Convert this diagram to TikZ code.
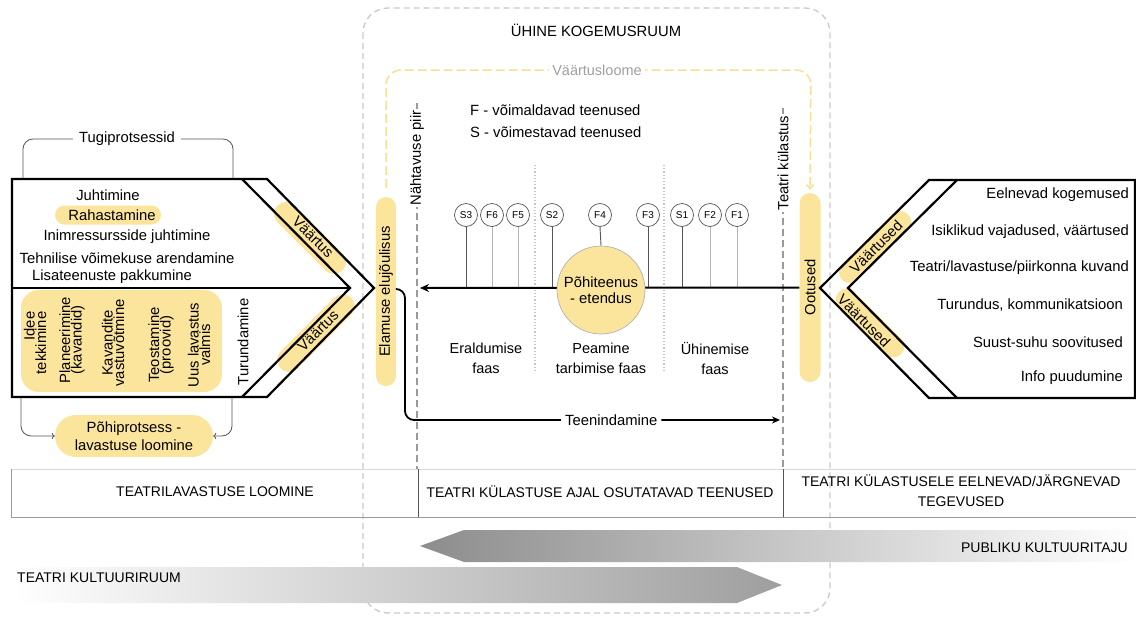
\documentclass[tikz,border=0pt]{standalone}
\usepackage{fontspec}
\setmainfont{Liberation Sans}
\usetikzlibrary{arrows.meta,calc}
\definecolor{pillfill}{HTML}{FBE49C}
\definecolor{valuedash}{HTML}{F8E092}
\definecolor{roomframe}{HTML}{C9C9C9}
\definecolor{inkgray}{HTML}{555555}
\definecolor{lightstem}{HTML}{B4B4B4}
\definecolor{borderline}{HTML}{9A9A9A}
\begin{document}
\begin{tikzpicture}[x=1pt,y=-1pt,
  every node/.style={inner sep=0pt, font=\fontsize{14.8}{17}\selectfont},
  outline/.style={line width=2.2pt, line join=miter},
  bracket/.style={inkgray, line width=0.8pt},
  visline/.style={borderline, line width=1.5pt, dash pattern=on 7pt off 4pt},
  vertlbl/.style={rotate=90, fill=white, inner sep=2pt},
  svc/.style={circle, draw=inkgray, line width=0.7pt, fill=white, minimum size=23pt, font=\fontsize{10}{12}\selectfont},
  darkstem/.style={inkgray, line width=0.9pt},
  softstem/.style={lightstem, line width=0.9pt},
  phase/.style={align=center, font=\fontsize{14.5}{20}\selectfont},
  stacked/.style={rotate=90, align=center, font=\fontsize{14.8}{11.5}\selectfont},
  tablelbl/.style={font=\fontsize{14}{20}\selectfont, align=center},
]
\useasboundingbox (0,0) rectangle (1136,619);

% shared experience room
\draw[roomframe, line width=1.3pt, dash pattern=on 6pt off 4pt, rounded corners=25pt] (363,8) rectangle (830,613);
\node (room) at (596,30) {ÜHINE KOGEMUSRUUM};

% bottom table of activity areas
\draw[gray!30, line width=0.8pt] (11,469) -- (1136,469);
\draw[borderline, line width=0.9pt] (11,469) -- (11,517) -- (1136,517);
\draw[inkgray, line width=0.9pt] (418,469) -- (418,517);
\draw[inkgray, line width=0.9pt] (783,469) -- (783,517);
\node[tablelbl] (tcreate) at (215,492) {TEATRILAVASTUSE LOOMINE};
\node[tablelbl] (tduring) at (600,492) {TEATRI KÜLASTUSE AJAL OSUTATAVAD TEENUSED};
\node[tablelbl] (tbefore) at (961,491) {TEATRI KÜLASTUSELE EELNEVAD/JÄRGNEVAD\\TEGEVUSED};

% gradient arrows
\path[left color=black!45, right color=white] (1136,530) -- (464,530) -- (420,546) -- (464,562) -- (1136,562) -- cycle;
\path[left color=white, right color=black!38] (15,567) -- (737,567) -- (782,585) -- (737,603) -- (15,603) -- cycle;
\node[anchor=east, font=\fontsize{14}{17}\selectfont] (publik) at (1128,548) {PUBLIKU KULTUURITAJU};
\node[anchor=west, font=\fontsize{14}{17}\selectfont] (kultruum) at (17,578) {TEATRI KULTUURIRUUM};

% visibility and visit borders
\draw[visline] (417,103) -- (417,469);
\node[vertlbl] (nahtlbl) at (417,158) {Nähtavuse piir};
\draw[visline] (783,108) -- (783,469);
\node[vertlbl] (kylbl) at (783,163) {Teatri külastus};

% phase separators
\draw[gray!45, line width=1.2pt, dotted] (535,165) -- (535,372);
\draw[gray!45, line width=1.2pt, dotted] (664,165) -- (664,372);

% yellow pills for experience and expectations
\node[rotate=90, fill=pillfill, minimum width=189pt, minimum height=20pt, rounded corners=10pt] (elam) at (386,291.5) {Elamuse elujõulisus};
\node[rotate=90, fill=pillfill, minimum width=189pt, minimum height=21pt, rounded corners=10.5pt] (oot) at (810,287.5) {Ootused};

% value creation loop
\draw[valuedash, line width=1.5pt, dash pattern=on 9pt off 4pt, rounded corners=15pt, -{Straight Barb[length=4pt,width=7pt]}]
  ([yshift=9pt]elam.east) -- (386,70) -- (811,70) -- ([yshift=3pt]oot.east);
\node[fill=white, inner xsep=3pt, inner ysep=2pt, text=gray!75, font=\fontsize{14.5}{17}\selectfont] (valoome) at (597,70) {Väärtusloome};

% legend
\node[anchor=west] (flegend) at (470,110) {F - võimaldavad teenused};
\node[anchor=west] (slegend) at (470,132) {S - võimestavad teenused};

% service timeline
\coordinate (tltip) at (420,288);
\foreach \nm/\xx/\st in {S3/466/darkstem, F6/492/softstem, F5/518/softstem, S2/552/darkstem, F3/648/darkstem, S1/682/darkstem, F2/710/softstem, F1/737/softstem}{
  \node[svc] (\nm) at (\xx,215) {\nm};
  \draw[\st] (\nm.south) -- (\nm.south |- tltip);
}
\node[svc] (F4) at (600,215) {F4};
\draw[outline, line width=2pt, -{Stealth[length=9pt,width=8pt]}] (oot.north) -- (tltip);
\node[circle, fill=pillfill, draw=gray!60, line width=0.7pt, minimum size=88pt, align=center, font=\fontsize{14.8}{16}\selectfont] (core) at (601,290) {Põhiteenus\\- etendus};
\draw[darkstem] (F4.south) -- (core.north);

\node[phase] (eral) at (486,358) {Eraldumise\\faas};
\node[phase] (peam) at (601,358) {Peamine\\tarbimise faas};
\node[phase] (yhin) at (715,358) {Ühinemise\\faas};

% service connector
\draw[line width=1.8pt, rounded corners=9pt, -{Stealth[length=8pt,width=7pt]}]
  ([yshift=2.5pt]elam.south) -- (405,289) -- (405,420) -- node[pos=0.55, fill=white, inner xsep=4pt, inner ysep=2pt] (teen) {Teenindamine} (780,420);

% left panel: value chain
\node[rotate=-45, fill=pillfill, minimum width=92pt, minimum height=24pt, rounded corners=12pt] (lvup) at (310,238) {};
\node[rotate=45, fill=pillfill, minimum width=100pt, minimum height=24pt, rounded corners=12pt] (lvlo) at (316,333) {};
\node[fill=pillfill, minimum width=106pt, minimum height=19pt, rounded corners=9.5pt] (rahpill) at (108,215) {};
\fill[pillfill, rounded corners=18pt] (21,290) rectangle (222,392);
\draw[outline] (12,179) -- (267,179) -- (374,288) -- (267,397) -- (12,397) -- cycle;
\draw[outline] (242,179) -- (350,288) -- (242,397);
\draw[outline] (12,288) -- (350,288);
\node[rotate=-45] (lvupt) at (313,237) {Väärtus};
\node[rotate=45] (lvlot) at (318,331) {Väärtus};

\node (juht) at (108,195) {Juhtimine};
\node (rah) at (112,215) {Rahastamine};
\node (inim) at (127,237) {Inimressursside juhtimine};
\node (tehn) at (127,258) {Tehnilise võimekuse arendamine};
\node (lisa) at (112,277) {Lisateenuste pakkumine};

\node[stacked, align=right] (idee) at (35,343) {Idee\\tekkimine};
\node[stacked] (plan) at (72,340) {Planeerimine\\(kavandid)};
\node[stacked] (kav) at (113,343) {Kavandite\\vastuvõtmine};
\node[stacked] (teos) at (161,345) {Teostamine\\(proovid)};
\node[stacked] (uus) at (199,345) {Uus lavastus\\valmis};
\node[stacked] (turu) at (243,342) {Turundamine};

% support and core process brackets
\node[inner xsep=6pt] (tug) at (127,139) {Tugiprotsessid};
\draw[bracket, rounded corners=10pt] (23,178) |- (tug.west);
\draw[bracket, rounded corners=10pt] (tug.east) -| (233,178);
\node[fill=pillfill, minimum width=158pt, minimum height=42pt, rounded corners=21pt, align=center, font=\fontsize{14.8}{18}\selectfont] (pp) at (134,436) {Põhiprotsess -\\lavastuse loomine};
\draw[bracket, rounded corners=10pt, -{To[length=3pt]}] (21,398) |- (pp.west);
\draw[bracket, rounded corners=10pt, -{To[length=3pt]}] (232,398) |- (pp.east);

% right panel: expectations
\node[rotate=45, fill=pillfill, minimum width=93pt, minimum height=22pt, rounded corners=11pt] (rvup) at (875,247) {};
\node[rotate=-45, fill=pillfill, minimum width=88pt, minimum height=22pt, rounded corners=11pt] (rvlo) at (870,323) {};
\draw[outline] (1135,180) -- (929,180) -- (820,288) -- (929,398) -- (1135,398) -- cycle;
\draw[outline] (957,180) -- (848,288) -- (957,398);
\node[rotate=45] (rvupt) at (876,247) {Väärtused};
\node[rotate=-45] (rvlot) at (864,321) {Väärtused};

\node[anchor=east] (eeln) at (1129,195) {Eelnevad kogemused};
\node[anchor=east] (isik) at (1129,232) {Isiklikud vajadused, väärtused};
\node[anchor=east] (kuv) at (1129,268) {Teatri/lavastuse/piirkonna kuvand};
\node[anchor=east] (turk) at (1123,305) {Turundus, kommunikatsioon};
\node[anchor=east] (suust) at (1123,342) {Suust-suhu soovitused};
\node[anchor=east] (info) at (1123,378) {Info puudumine};
\end{tikzpicture}
\end{document}
